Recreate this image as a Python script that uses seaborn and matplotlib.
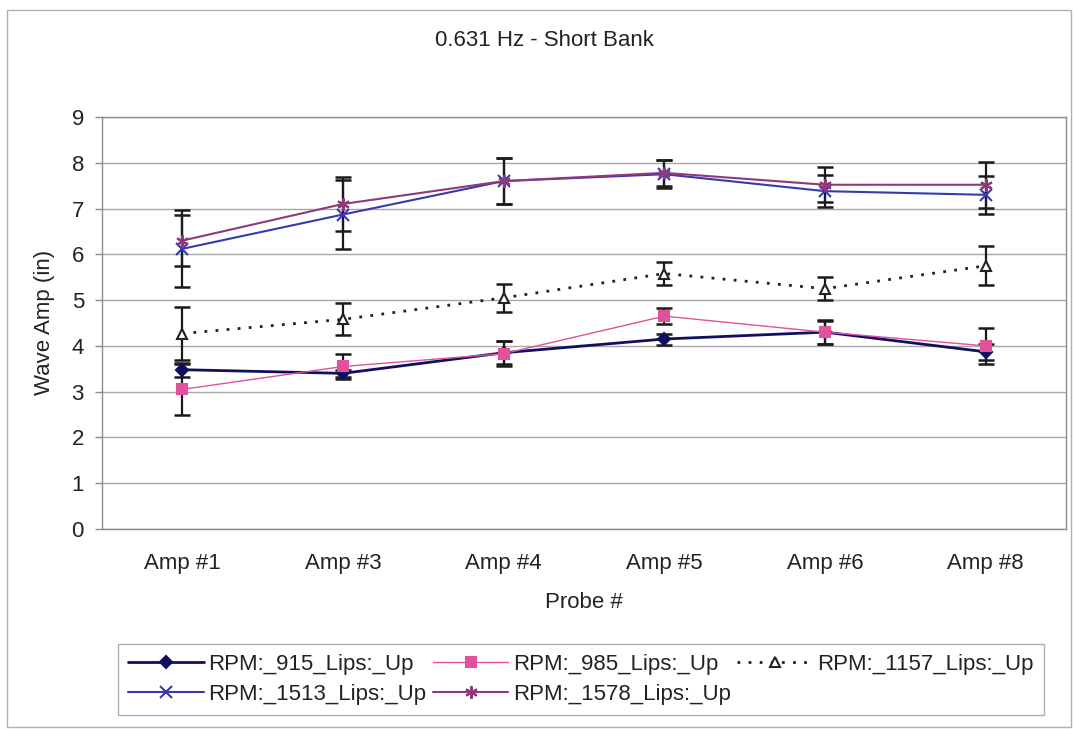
import pandas as pd
import seaborn as sns
import matplotlib.pyplot as plt
from matplotlib.patches import Rectangle

probes = ["Amp #1", "Amp #3", "Amp #4", "Amp #5", "Amp #6", "Amp #8"]

rpm_915 = [3.48, 3.40, 3.85, 4.15, 4.30, 3.87]
err_915 = [0.15, 0.08, 0.25, 0.12, 0.25, 0.18]

rpm_985 = [3.05, 3.55, 3.83, 4.65, 4.30, 4.00]
err_985 = [0.55, 0.28, 0.27, 0.18, 0.26, 0.40]

rpm_1157 = [4.27, 4.58, 5.05, 5.58, 5.25, 5.75]
err_1157 = [0.57, 0.35, 0.30, 0.25, 0.25, 0.43]

rpm_1513 = [6.12, 6.87, 7.60, 7.75, 7.38, 7.30]
err_1513 = [0.84, 0.76, 0.50, 0.30, 0.35, 0.42]

rpm_1578 = [6.30, 7.10, 7.60, 7.78, 7.52, 7.52]
err_1578 = [0.55, 0.60, 0.50, 0.28, 0.38, 0.50]

series = {
    "RPM:_915_Lips:_Up": (rpm_915, err_915),
    "RPM:_985_Lips:_Up": (rpm_985, err_985),
    "RPM:_1157_Lips:_Up": (rpm_1157, err_1157),
    "RPM:_1513_Lips:_Up": (rpm_1513, err_1513),
    "RPM:_1578_Lips:_Up": (rpm_1578, err_1578),
}

styles = {
    "RPM:_915_Lips:_Up": dict(color="#101060", marker="D", lw=2.0, ms=6, ls="-", mfc="#101060"),
    "RPM:_985_Lips:_Up": dict(color="#E0529C", marker="s", lw=1.0, ms=7, ls="-", mfc="#E0529C"),
    "RPM:_1157_Lips:_Up": dict(color="#222222", marker="^", lw=2.0, ms=7, ls=(0, (1, 3)), mfc="white"),
    "RPM:_1513_Lips:_Up": dict(color="#3838B0", marker="x", lw=1.5, ms=8, ls="-", mfc="#3838B0"),
    "RPM:_1578_Lips:_Up": dict(color="#8E3A78", marker=(6, 2, 0), lw=1.5, ms=9, ls="-", mfc="#8E3A78"),
}

rows = []
for name, (vals, errs) in series.items():
    for p, v, e in zip(probes, vals, errs):
        rows.append({"probe": p, "amp": v, "err": e, "series": name})
df = pd.DataFrame(rows)

sns.set_style("white")
plt.rcParams["font.family"] = ["Liberation Sans", "DejaVu Sans"]

fig = plt.figure(figsize=(10.74, 7.29), dpi=100)
ax = fig.add_axes([102 / 1074, 1 - 529 / 729, 964 / 1074, 412 / 729])

# grid
ax.set_ylim(0, 9)
ax.set_xlim(-0.5, 5.5)
ax.set_yticks(range(0, 10))
ax.yaxis.grid(True, color="#a8a8a8", lw=1.0)
ax.set_axisbelow(True)

handles = {}
for name in series:
    st = styles[name]
    sub = df[df["series"] == name]
    # error bars first, black with caps
    ax.errorbar(sub["probe"], sub["amp"], yerr=sub["err"], fmt="none",
                ecolor="#1a1a1a", elinewidth=1.6, capsize=6, capthick=1.8, zorder=3)
    sns.lineplot(data=sub, x="probe", y="amp", ax=ax, color=st["color"],
                 linewidth=st["lw"], linestyle=st["ls"], marker=st["marker"],
                 markersize=st["ms"], markerfacecolor=st["mfc"],
                 markeredgecolor=st["color"], markeredgewidth=1.5,
                 sort=False, zorder=4, label=name)

ax.set_xlim(-0.5, 5.5)
ax.set_ylim(0, 9)

for s in ax.spines.values():
    s.set_color("#8c8c8c")
    s.set_linewidth(1.0)

ax.tick_params(axis="y", which="major", length=5, width=1, color="#8c8c8c",
               pad=8, labelsize=16, left=True, labelcolor="#222222")
ax.tick_params(axis="x", length=0, pad=17, labelsize=16, labelcolor="#222222")
ax.set_xlabel("")
ax.set_ylabel("")

fig.text(544 / 1074, 1 - 40 / 729, "0.631 Hz - Short Bank", ha="center", va="center",
         fontsize=16, color="#222222")
fig.text(584 / 1074, 1 - 602 / 729, "Probe #", ha="center", va="center",
         fontsize=16, color="#222222")
fig.text(45 / 1074, 1 - 322 / 729, "Wave Amp (in)", ha="center", va="center",
         rotation=90, fontsize=16, color="#222222")

# legend: row-major order via column fill
h, l = ax.get_legend_handles_labels()
lookup = dict(zip(l, h))
order = ["RPM:_915_Lips:_Up", "RPM:_1513_Lips:_Up", "RPM:_985_Lips:_Up",
         "RPM:_1578_Lips:_Up", "RPM:_1157_Lips:_Up"]
leg = ax.legend([lookup[o] for o in order], order, ncol=3, loc="upper left",
                bbox_to_anchor=(118 / 1074, 1 - 644 / 729), bbox_transform=fig.transFigure,
                borderaxespad=0, fontsize=16, frameon=True, fancybox=False,
                handlelength=3.4, handletextpad=0.2, columnspacing=0.3,
                labelspacing=0.4, borderpad=0.45, edgecolor="#9a9a9a")
leg.get_frame().set_linewidth(1.0)
for t in leg.get_texts():
    t.set_color("#222222")

# outer chart border
fig.patches.append(Rectangle((7 / 1074, 1 - 727 / 729), 1064 / 1074, 717 / 729,
                             transform=fig.transFigure, fill=False,
                             edgecolor="#b0b0b0", lw=1.0))

fig.savefig("out.png", dpi=100)
